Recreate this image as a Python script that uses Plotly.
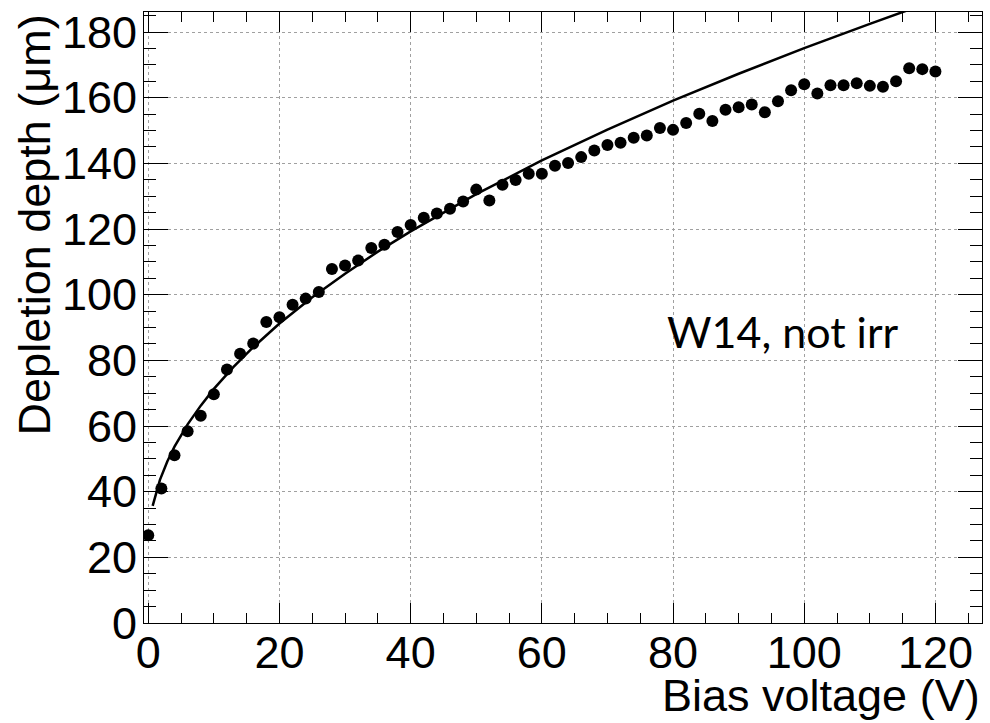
import plotly.graph_objects as go

# Measured data (bias voltage in V, depletion depth in um)
bias_v = list(range(0, 122, 2))
depth_um = [26.7, 41.0, 51.1, 58.4, 63.1, 69.7, 77.2, 82.0, 85.1, 91.7,
            93.1, 96.9, 98.8, 100.8, 107.8, 108.9, 110.4, 114.2, 115.2, 119.1,
            121.2, 123.4, 124.7, 126.2, 128.4, 132.0, 128.7, 133.5, 134.9, 136.8,
            136.8, 139.3, 140.1, 141.9, 143.9, 145.6, 146.3, 147.8, 148.5, 150.8,
            150.2, 152.3, 155.1, 152.9, 156.3, 157.1, 157.9, 155.6, 158.9, 162.3,
            164.1, 161.3, 163.8, 163.8, 164.4, 163.6, 163.3, 165.0, 169.0, 168.7,
            168.0]

# Fit curve
fit_x = [0.67, 1.78, 2.9, 4.0, 6, 8, 10, 13, 16, 20, 25, 30, 35, 40, 50, 60,
         70, 80, 90, 100, 110, 116]
fit_y = [35.7, 43.6, 49.2, 53.7, 60.5, 66.2, 71.3, 78.0, 84.0, 91.2, 99.2,
         106.4, 113.1, 119.3, 130.6, 140.9, 150.3, 159.1, 167.3, 175.1, 182.5, 186.8]

x_ticks = [0, 20, 40, 60, 80, 100, 120]
y_ticks = [0, 20, 40, 60, 80, 100, 120, 140, 160, 180]

label_font = dict(family="Liberation Sans, Arial, sans-serif", size=45, color="black")

fig = go.Figure()
fig.add_trace(go.Scatter(x=bias_v, y=depth_um, mode="markers",
                         marker=dict(color="black", size=12, symbol="circle"),
                         showlegend=False))
fig.add_trace(go.Scatter(x=fit_x, y=fit_y, mode="lines",
                         line=dict(color="black", width=2.5),
                         showlegend=False))

axis_common = dict(
    showline=True, linecolor="black", linewidth=1, mirror="ticks",
    ticks="inside", tickcolor="black", tickwidth=1,
    showgrid=True, gridcolor="#a0a0a0", griddash="dot", gridwidth=1,
    zeroline=False, tickfont=label_font,
)

fig.update_xaxes(range=[-0.65, 127.1], tickvals=x_ticks, ticklen=20,
                 minor=dict(dtick=5, ticks="inside", ticklen=10, tickcolor="black", showgrid=False),
                 ticklabelstandoff=-10, **axis_common)
fig.update_yaxes(range=[0, 186.1], tickvals=y_ticks, ticklen=24,
                 minor=dict(dtick=5, ticks="inside", ticklen=12, tickcolor="black", showgrid=False),
                 ticklabelstandoff=-3, **axis_common)

fig.add_annotation(text="Bias voltage (V)", xref="paper", yref="paper",
                   x=1.0, y=-0.119, xanchor="right", yanchor="middle",
                   showarrow=False, font=label_font)
fig.add_annotation(text="Depletion depth (\u03bcm)", xref="paper", yref="paper",
                   x=-0.163, y=1.0, xanchor="left", yanchor="top", textangle=-90,
                   showarrow=False, font=label_font)
fig.add_annotation(text="W14, not irr", xref="x", yref="y",
                   x=78.8, y=88.7, xanchor="left", yanchor="middle",
                   showarrow=False,
                   font=dict(family="Lato, Open Sans, sans-serif", size=43, color="black"))

fig.update_layout(width=990, height=723,
                  margin=dict(l=144, r=8, t=12, b=100),
                  paper_bgcolor="white", plot_bgcolor="white")

fig.write_html("out.html")
